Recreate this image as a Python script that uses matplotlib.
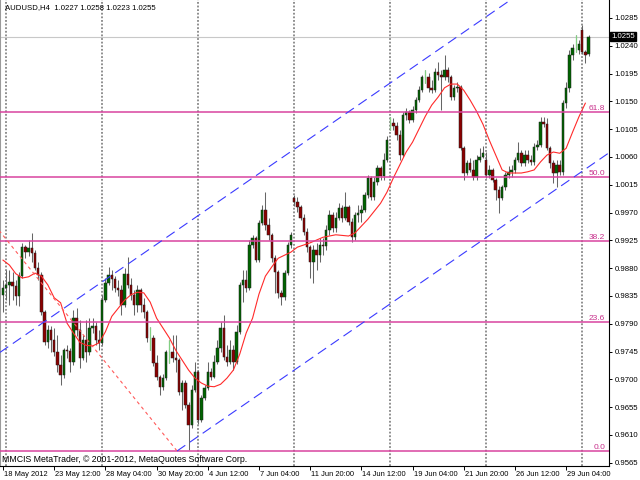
import matplotlib
matplotlib.use("Agg")
import matplotlib.pyplot as plt
import matplotlib.transforms as mtransforms

plt.rcParams['font.family'] = ['Liberation Sans', 'DejaVu Sans']

# AUDUSD H4 bars, 18 May 2012 20:00 .. 2 Jul 2012
opens = [0.9836, 0.9848, 0.9853, 0.9858, 0.9851, 0.9835, 0.9867, 0.9914, 0.9906, 0.9913,
         0.9904, 0.9880, 0.9869, 0.9809, 0.9760, 0.9780, 0.9764, 0.9744, 0.9723, 0.9707,
         0.9747, 0.9746, 0.9728, 0.9799, 0.9780, 0.9734, 0.9764, 0.9744, 0.9783, 0.9786,
         0.9764, 0.9759, 0.9828, 0.9856, 0.9869, 0.9862, 0.9848, 0.9845, 0.9820, 0.9870,
         0.9853, 0.9836, 0.9820, 0.9845, 0.9820, 0.9809, 0.9767, 0.9767, 0.9726, 0.9704,
         0.9688, 0.9702, 0.9744, 0.9744, 0.9734, 0.9731, 0.9679, 0.9694, 0.9658, 0.9626,
         0.9683, 0.9712, 0.9634, 0.9670, 0.9686, 0.9712, 0.9704, 0.9728, 0.9751, 0.9783,
         0.9736, 0.9728, 0.9747, 0.9728, 0.9777, 0.9853, 0.9861, 0.9848, 0.9917, 0.9929,
         0.9893, 0.9953, 0.9974, 0.9950, 0.9934, 0.9896, 0.9874, 0.9840, 0.9833, 0.9872,
         0.9917, 0.9994, 0.9987, 0.9979, 0.9961, 0.9938, 0.9914, 0.9890, 0.9909, 0.9901,
         0.9917, 0.9916, 0.9942, 0.9966, 0.9945, 0.9961, 0.9977, 0.9961, 0.9979, 0.9955,
         0.9930, 0.9966, 0.9969, 0.9974, 0.9998, 1.0026, 0.9995, 1.0019, 1.0042, 1.0029,
         1.0055, 1.0115, 1.0115, 1.0110, 1.0096, 1.0063, 1.0128, 1.0133, 1.0120, 1.0136,
         1.0152, 1.0168, 1.0189, 1.0189, 1.0172, 1.0168, 1.0198, 1.0193, 1.0189, 1.0201,
         1.0189, 1.0157, 1.0172, 1.0173, 1.0074, 1.0034, 1.0050, 1.0039, 1.0028, 1.0055,
         1.0060, 1.0055, 1.0031, 1.0039, 1.0023, 1.0006, 0.9994, 1.0011, 1.0031, 1.0036,
         1.0039, 1.0055, 1.0066, 1.0050, 1.0063, 1.0055, 1.0052, 1.0076, 1.0079, 1.0117,
         1.0113, 1.0074, 1.0050, 1.0034, 1.0047, 1.0036, 1.0147, 1.0172, 1.0225, 1.0236,
         1.0233, 1.0266, 1.0230, 1.0227]
highs = [0.9861, 0.9877, 0.9877, 0.9874, 0.9861, 0.9874, 0.9921, 0.9917, 0.9926, 0.9937,
         0.9909, 0.9890, 0.9874, 0.9812, 0.9788, 0.9786, 0.9783, 0.9772, 0.9739, 0.9751,
         0.9756, 0.9751, 0.9812, 0.9815, 0.9796, 0.9772, 0.9796, 0.9799, 0.9799, 0.9793,
         0.9780, 0.9836, 0.9864, 0.9882, 0.9877, 0.9867, 0.9861, 0.9853, 0.9880, 0.9898,
         0.9864, 0.9845, 0.9853, 0.9848, 0.9832, 0.9812, 0.9785, 0.9772, 0.9739, 0.9707,
         0.9709, 0.9747, 0.9764, 0.9772, 0.9772, 0.9734, 0.9699, 0.9699, 0.9663, 0.9691,
         0.9728, 0.9715, 0.9675, 0.9691, 0.9728, 0.9718, 0.9739, 0.9764, 0.9793, 0.9804,
         0.9756, 0.9764, 0.9756, 0.9788, 0.9858, 0.9877, 0.9877, 0.9926, 0.9934, 0.9932,
         0.9958, 0.9982, 1.0003, 0.9961, 0.9937, 0.9901, 0.9877, 0.9845, 0.9877, 0.9922,
         0.9938, 0.9998, 0.9995, 0.9982, 0.9968, 0.9945, 0.9917, 0.9917, 0.9921, 0.9929,
         0.9929, 0.9950, 0.9974, 0.9971, 0.9971, 0.9985, 0.9982, 1.0003, 0.9982, 0.9961,
         0.9971, 0.9982, 0.9982, 1.0003, 1.0031, 1.0029, 1.0028, 1.0047, 1.0045, 1.0066,
         1.0094, 1.0125, 1.0123, 1.0117, 1.0104, 1.0133, 1.0139, 1.0136, 1.0142, 1.0157,
         1.0175, 1.0193, 1.0201, 1.0196, 1.0185, 1.0204, 1.0214, 1.0201, 1.0225, 1.0206,
         1.0193, 1.0176, 1.0181, 1.0176, 1.0078, 1.0055, 1.0058, 1.0055, 1.0063, 1.0074,
         1.0078, 1.0068, 1.0047, 1.0042, 1.0026, 1.0013, 1.0015, 1.0036, 1.0045, 1.0047,
         1.0060, 1.0084, 1.0071, 1.0071, 1.0071, 1.0063, 1.0083, 1.0087, 1.0125, 1.0125,
         1.0123, 1.0078, 1.0055, 1.0055, 1.0055, 1.0152, 1.0181, 1.0233, 1.0243, 1.0257,
         1.0249, 1.0274, 1.0233, 1.0258]
lows = [0.9809, 0.9828, 0.9820, 0.9828, 0.9820, 0.9819, 0.9864, 0.9896, 0.9900, 0.9890,
        0.9877, 0.9861, 0.9804, 0.9756, 0.9751, 0.9744, 0.9738, 0.9712, 0.9691, 0.9702,
        0.9734, 0.9712, 0.9723, 0.9770, 0.9718, 0.9731, 0.9728, 0.9739, 0.9775, 0.9756,
        0.9747, 0.9756, 0.9825, 0.9853, 0.9845, 0.9841, 0.9835, 0.9804, 0.9817, 0.9848,
        0.9828, 0.9804, 0.9809, 0.9809, 0.9799, 0.9760, 0.9747, 0.9722, 0.9699, 0.9675,
        0.9683, 0.9699, 0.9726, 0.9728, 0.9712, 0.9675, 0.9650, 0.9654, 0.9586, 0.9621,
        0.9679, 0.9628, 0.9631, 0.9667, 0.9683, 0.9699, 0.9702, 0.9725, 0.9744, 0.9731,
        0.9722, 0.9725, 0.9715, 0.9725, 0.9773, 0.9825, 0.9841, 0.9845, 0.9913, 0.9890,
        0.9890, 0.9950, 0.9942, 0.9926, 0.9890, 0.9840, 0.9832, 0.9820, 0.9828, 0.9869,
        0.9913, 0.9981, 0.9971, 0.9958, 0.9934, 0.9906, 0.9864, 0.9856, 0.9877, 0.9890,
        0.9901, 0.9909, 0.9934, 0.9938, 0.9938, 0.9958, 0.9955, 0.9958, 0.9950, 0.9922,
        0.9926, 0.9955, 0.9955, 0.9971, 0.9994, 0.9990, 0.9990, 1.0015, 1.0023, 1.0023,
        1.0052, 1.0104, 1.0104, 1.0087, 1.0055, 1.0060, 1.0120, 1.0115, 1.0117, 1.0131,
        1.0149, 1.0165, 1.0180, 1.0165, 1.0164, 1.0165, 1.0185, 1.0136, 1.0185, 1.0181,
        1.0152, 1.0152, 1.0165, 1.0071, 1.0023, 1.0031, 1.0036, 1.0023, 1.0023, 1.0052,
        1.0058, 1.0026, 1.0026, 1.0019, 0.9990, 0.9969, 0.9990, 1.0006, 1.0026, 1.0028,
        1.0034, 1.0052, 1.0045, 1.0045, 1.0050, 1.0047, 1.0047, 1.0071, 1.0076, 1.0109,
        1.0071, 1.0042, 1.0018, 1.0011, 1.0031, 1.0031, 1.0139, 1.0165, 1.0217, 1.0230,
        1.0227, 1.0227, 1.0212, 1.0223]
closes = [0.9848, 0.9853, 0.9858, 0.9851, 0.9835, 0.9867, 0.9914, 0.9906, 0.9913, 0.9904,
          0.9880, 0.9869, 0.9809, 0.9760, 0.9780, 0.9764, 0.9744, 0.9723, 0.9707, 0.9747,
          0.9746, 0.9728, 0.9799, 0.9780, 0.9734, 0.9764, 0.9744, 0.9783, 0.9786, 0.9764,
          0.9759, 0.9828, 0.9856, 0.9869, 0.9862, 0.9848, 0.9845, 0.9820, 0.9870, 0.9853,
          0.9836, 0.9820, 0.9845, 0.9820, 0.9809, 0.9767, 0.9767, 0.9726, 0.9704, 0.9688,
          0.9702, 0.9744, 0.9744, 0.9734, 0.9731, 0.9679, 0.9694, 0.9658, 0.9626, 0.9683,
          0.9712, 0.9634, 0.9670, 0.9686, 0.9712, 0.9704, 0.9728, 0.9751, 0.9783, 0.9736,
          0.9728, 0.9747, 0.9728, 0.9777, 0.9853, 0.9861, 0.9848, 0.9917, 0.9929, 0.9893,
          0.9953, 0.9974, 0.9950, 0.9934, 0.9896, 0.9874, 0.9840, 0.9833, 0.9872, 0.9917,
          0.9934, 0.9987, 0.9979, 0.9961, 0.9938, 0.9914, 0.9890, 0.9909, 0.9901, 0.9917,
          0.9916, 0.9942, 0.9966, 0.9945, 0.9961, 0.9977, 0.9961, 0.9979, 0.9955, 0.9930,
          0.9966, 0.9969, 0.9974, 0.9998, 1.0026, 0.9995, 1.0019, 1.0042, 1.0029, 1.0055,
          1.0087, 1.0115, 1.0110, 1.0096, 1.0063, 1.0128, 1.0133, 1.0120, 1.0136, 1.0152,
          1.0168, 1.0189, 1.0189, 1.0172, 1.0168, 1.0198, 1.0193, 1.0189, 1.0201, 1.0189,
          1.0157, 1.0172, 1.0173, 1.0074, 1.0034, 1.0050, 1.0039, 1.0028, 1.0055, 1.0060,
          1.0066, 1.0031, 1.0039, 1.0023, 1.0006, 0.9994, 1.0011, 1.0031, 1.0036, 1.0039,
          1.0055, 1.0066, 1.0050, 1.0063, 1.0055, 1.0052, 1.0076, 1.0079, 1.0117, 1.0113,
          1.0074, 1.0050, 1.0034, 1.0047, 1.0036, 1.0147, 1.0172, 1.0225, 1.0236, 1.0236,
          1.0243, 1.0230, 1.0225, 1.0255]

# moving average
ma_bars = [0, 2, 4, 6, 8, 10, 12, 14, 16, 18, 20, 22, 24, 26, 28, 30, 32, 34, 36, 38,
           40, 42, 44, 46, 48, 50, 52, 54, 56, 58, 60, 62, 64, 66, 68, 70, 72, 74, 76, 78,
           80, 82, 84, 86, 88, 90, 92, 96, 100, 104, 108, 110, 112, 114, 116, 118, 120, 122,
           124, 126, 128, 130, 132, 134, 136, 138, 140, 142, 144, 146, 148, 150, 152, 154,
           156, 158, 160, 162, 164, 166, 168, 170, 172, 174, 176, 178, 180, 182]
ma_values = [0.9893, 0.9885, 0.9871, 0.9864, 0.9866, 0.9872, 0.9867, 0.9853, 0.9832, 0.9824,
             0.9791, 0.9775, 0.9760, 0.9755, 0.9754, 0.9759, 0.9777, 0.9802, 0.9815, 0.9828,
             0.9837, 0.9841, 0.9840, 0.9825, 0.9799, 0.9783, 0.9767, 0.9747, 0.9731, 0.9715,
             0.9702, 0.9694, 0.9689, 0.9688, 0.9692, 0.9702, 0.9715, 0.9741, 0.9775, 0.9799,
             0.9838, 0.9867, 0.9882, 0.9896, 0.9901, 0.9906, 0.9914, 0.9921, 0.9930, 0.9934,
             0.9932, 0.9937, 0.9948, 0.9959, 0.9972, 0.9985, 1.0003, 1.0026, 1.0047, 1.0068,
             1.0084, 1.0105, 1.0126, 1.0144, 1.0157, 1.0172, 1.0178, 1.0178, 1.0168, 1.0152,
             1.0134, 1.0113, 1.0087, 1.0063, 1.0039, 1.0034, 1.0034, 1.0034, 1.0036, 1.0039,
             1.0052, 1.0063, 1.0068, 1.0066, 1.0074, 1.0100, 1.0125, 1.0147]

doji_bars = [46, 52, 121, 132, 179]
week_bars = [1, 31, 61, 91, 121, 151, 181]
time_ticks = [0, 16, 32, 48, 64, 80, 96, 112, 128, 144, 160, 176]
time_labels = ["18 May 2012", "23 May 12:00", "28 May 04:00", "30 May 20:00",
               "4 Jun 12:00", "7 Jun 04:00", "11 Jun 20:00", "14 Jun 12:00",
               "19 Jun 04:00", "21 Jun 20:00", "26 Jun 12:00", "29 Jun 04:00"]
price_ticks = [1.0285, 1.0240, 1.0195, 1.0150, 1.0105, 1.0060, 1.0015, 0.9970, 0.9925,
               0.9880, 0.9835, 0.9790, 0.9745, 0.9700, 0.9655, 0.9610, 0.9565]

fib_levels = [0.0, 23.6, 38.2, 50.0, 61.8]
fib_points = [(-84, 1.0472), (54.4, 0.9584)]        # 100% and 0% anchors
channel_low = [(54.4, 0.9584), (185, 1.0051)]       # lower channel line
channel_up_start = (0, 0.9747)                      # parallel upper line
bid = 1.0255

fig = plt.figure(figsize=(6.4, 4.8), dpi=100)
ax = fig.add_axes([0, 14 / 480, 609 / 640, 466 / 480])
xmin, xmax = -0.94, 189.4
ax.set_xlim(xmin, xmax)
ax.set_ylim(0.95597, 1.03141)

for b in week_bars:
    ax.axvline(b, color='#868686', lw=1.3, ls=(0, (1, 1)), zorder=1)

# candles
n = len(closes)
idx = list(range(n))
ax.vlines(idx, lows, highs, color='#666666', lw=0.75, zorder=3)
body_x, body_b, body_h, body_c = [], [], [], []
for i in idx:
    if i in doji_bars:
        continue
    body_x.append(i)
    body_b.append(opens[i])
    body_h.append(closes[i] - opens[i])
    body_c.append('#006400' if closes[i] >= opens[i] else '#8b0000')
ax.bar(body_x, body_h, bottom=body_b, width=0.78, color=body_c,
       edgecolor='#202020', linewidth=0.35, zorder=4)
for i in doji_bars:
    ax.vlines(i, lows[i], highs[i], color='#82cf82', lw=0.9, zorder=4)

# moving average
ax.plot(ma_bars, ma_values, color='#ff2a2a', lw=0.8, zorder=5)

# fibonacci retracement
f0, f100 = fib_points[1][1], fib_points[0][1]
for lev in fib_levels:
    p = f0 + (f100 - f0) * lev / 100
    ax.axhline(p, color='#d9449f', lw=1.1, zorder=5)
    ax.text(xmax - 1.2, p, f"{lev:.1f}", color='#c8308c', fontsize=6,
            ha='right', va='bottom', zorder=6)
ax.plot([fib_points[0][0], fib_points[1][0]], [fib_points[0][1], fib_points[1][1]],
        color='#ff5a5a', lw=0.8, ls=(0, (3, 3)), zorder=5)

# equidistant channel
(x1, y1), (x2, y2) = channel_low
slope = (y2 - y1) / (x2 - x1)
ax.plot([x1, xmax], [y1, y1 + slope * (xmax - x1)], color='#3a3aff', lw=0.8,
        ls=(0, (9, 5)), zorder=5)
ux, uy = channel_up_start
ax.plot([xmin, xmax], [uy + slope * (xmin - ux), uy + slope * (xmax - ux)],
        color='#3a3aff', lw=0.8, ls=(0, (9, 5)), zorder=5)

# bid line and price label
ax.axhline(bid, color='#c8c8c8', lw=0.8, zorder=2)
ax.text(1.004, bid, f"{bid:.4f}", transform=ax.get_yaxis_transform(), color='white',
        fontsize=5.6, ha='left', va='center', clip_on=False, zorder=10,
        bbox=dict(boxstyle='square,pad=0.15', fc='black', ec='black'))

# axes styling
ax.spines['top'].set_visible(False)
ax.spines['left'].set_color('#9a9a9a')
ax.spines['left'].set_linewidth(1.5)
ax.spines['right'].set_linewidth(0.8)
ax.spines['bottom'].set_linewidth(0.8)
ax.yaxis.tick_right()
ax.set_yticks(price_ticks)
ax.set_yticklabels([f"{p:.4f}" for p in price_ticks])
ax.tick_params(axis='y', direction='out', length=2.5, width=0.7, pad=1.5, labelsize=5.6)
ax.set_xticks(time_ticks)
ax.set_xticklabels(time_labels)
ax.tick_params(axis='x', direction='out', length=3, width=0.7, pad=0.8, labelsize=5.4)
shift = mtransforms.ScaledTranslation(1.0 / 100, 0, fig.dpi_scale_trans)
for lab in ax.get_xticklabels():
    lab.set_ha('left')
    lab.set_transform(lab.get_transform() + shift)

ax.text(0.008, 1 - 8 / 466, "AUDUSD,H4  1.0227 1.0258 1.0223 1.0255", transform=ax.transAxes,
        fontsize=5.6, ha='left', va='center', zorder=10)
ax.text(0.004, 6 / 466, "MMCIS MetaTrader, © 2001-2012, MetaQuotes Software Corp.",
        transform=ax.transAxes, fontsize=6.3, ha='left', va='center', zorder=10)

fig.savefig("out.png", dpi=100)
